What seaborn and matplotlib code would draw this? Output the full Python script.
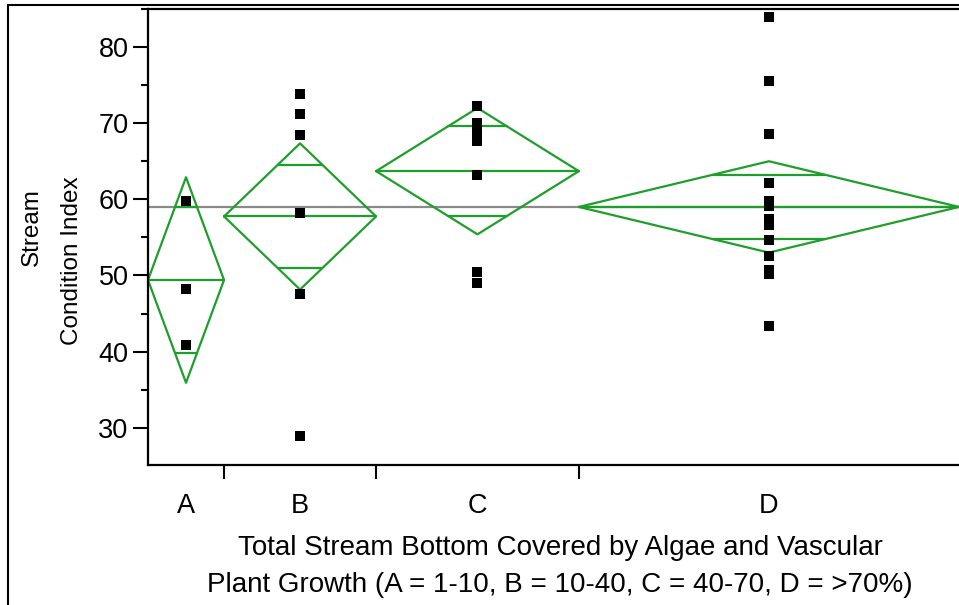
import numpy as np
import pandas as pd
import matplotlib
matplotlib.use('Agg')
import matplotlib.pyplot as plt
import seaborn as sns
from matplotlib.patches import Rectangle

# Values
groups = ['A', 'B', 'C', 'D']
vals_a = [59.8, 48.2, 40.9]
vals_b = [73.8, 71.2, 68.5, 58.2, 47.5, 28.9]
vals_c = [72.2, 70.0, 69.0, 68.5, 67.6, 63.2, 50.5, 49.0]
vals_d = [83.9, 75.5, 68.6, 62.2, 59.8, 59.1, 57.4, 56.6, 56.6,
          54.6, 54.6, 52.6, 50.7, 50.2, 43.3]
group_means = [49.4, 57.75, 63.7, 59.0]
ci_half = [13.5, 9.6, 8.3, 6.0]
grand_mean = 59.0

all_vals = [vals_a, vals_b, vals_c, vals_d]
counts = [len(v) for v in all_vals]
edges = np.concatenate([[0], np.cumsum(counts)])
centers = (edges[:-1] + edges[1:]) / 2

rows = []
for g, c, v in zip(groups, centers, all_vals):
    for y in v:
        rows.append({'group': g, 'x': c, 'y': y})
df = pd.DataFrame(rows)

sns.set_style('white')
plt.rcParams['font.family'] = ['Liberation Sans', 'DejaVu Sans']
plt.rcParams['text.color'] = 'black'
plt.rcParams['xtick.color'] = 'black'
plt.rcParams['ytick.color'] = 'black'

fig = plt.figure(figsize=(9.59, 6.05), dpi=100)
ax = fig.add_axes([148 / 959, 1 - 465 / 605, 1 - 148 / 959, (465 - 9) / 605])

green = '#1e9e2a'
ax.axhline(grand_mean, color='#8a8a8a', lw=1.6, zorder=1)

# means diamonds with overlap marks
for (lo, hi), c, m, ci in zip(zip(edges[:-1], edges[1:]), centers, group_means, ci_half):
    xs = [lo, c, hi, c, lo]
    ys = [m, m + ci, m, m - ci, m]
    ax.plot(xs, ys, color=green, lw=1.6, zorder=2)
    ax.plot([lo, hi], [m, m], color=green, lw=1.6, zorder=2)
    half = (hi - lo) / 2 * (1 - 1 / np.sqrt(2))
    for s in (1, -1):
        ax.plot([c - half, c + half], [m + s * ci / np.sqrt(2)] * 2,
                color=green, lw=1.6, zorder=2)

sns.scatterplot(data=df, x='x', y='y', marker='s', s=55, color='black',
                linewidth=0, ax=ax, zorder=3, legend=False)

ax.set_xlim(0, edges[-1])
ax.set_ylim(25.1, 85)
ax.set_xticks(centers)
ax.set_xticklabels(groups, fontsize=19.5, color='black')
ax.set_xticks(edges[1:-1], minor=True)
ax.tick_params(axis='x', which='major', length=0, pad=20, bottom=True)
ax.tick_params(axis='x', which='minor', length=10, width=1.5, direction='out',
               color='black', bottom=True)
ax.set_yticks([30, 40, 50, 60, 70, 80])
ax.set_yticks([35, 45, 55, 65, 75, 85], minor=True)
ax.tick_params(axis='y', which='major', length=11, width=1.5, direction='out',
               labelsize=19.5, labelcolor='black', pad=3, color='black', left=True)
ax.tick_params(axis='y', which='minor', length=5, width=1.5, direction='out',
               color='black', left=True)
ax.set_xlabel('')
ax.set_ylabel('')

for side in ['left', 'bottom', 'top']:
    ax.spines[side].set_color('black')
    ax.spines[side].set_linewidth(1.6)
ax.spines['right'].set_visible(False)

fig.text(32 / 959, 1 - 227 / 605, 'Stream', rotation=90, fontsize=17.5,
         ha='center', va='center')
fig.text(72 / 959, 1 - 261 / 605, 'Condition Index', rotation=90, fontsize=17.5,
         ha='center', va='center')
fig.text(560 / 959, 1 - 548 / 605, 'Total Stream Bottom Covered by Algae and Vascular',
         fontsize=20, ha='center', va='center')
fig.text(560 / 959, 1 - 585 / 605, 'Plant Growth (A = 1-10, B = 10-40, C = 40-70, D = >70%)',
         fontsize=20, ha='center', va='center')

# outer frame
fig.patches.append(Rectangle((8 / 959, -0.1), 1.0, 1 - 5 / 605 + 0.1,
                             transform=fig.transFigure, fill=False,
                             edgecolor='black', lw=1.5))

fig.savefig('out.png', dpi=100)
